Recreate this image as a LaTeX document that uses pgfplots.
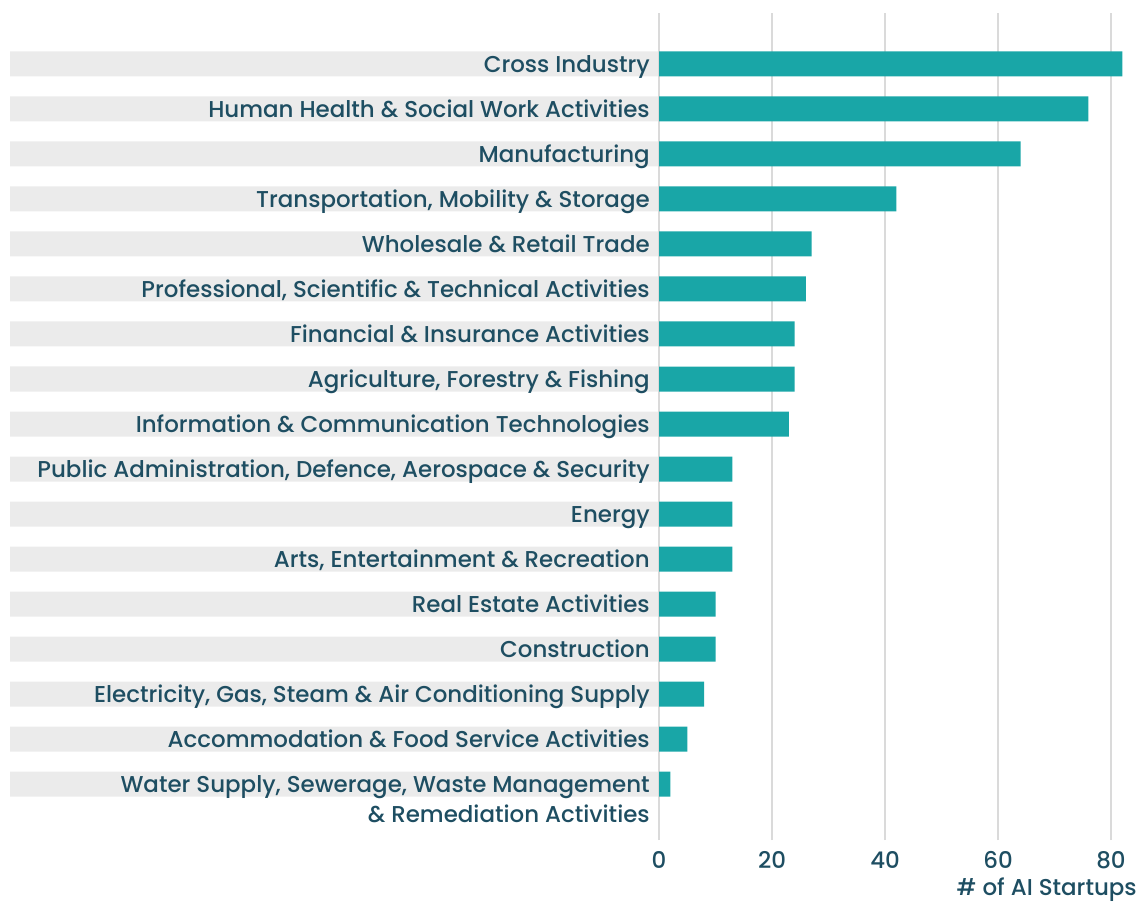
\documentclass[border=0pt]{standalone}
\usepackage{pgfplots}
\pgfplotsset{compat=1.18}
\usepackage{fontspec}
\setmainfont{Poppins}[UprightFont=* Medium]
\definecolor{barteal}{HTML}{19A6A7}
\definecolor{stripe}{HTML}{EBEBEB}
\definecolor{txt}{HTML}{1E4E62}
\definecolor{gridc}{HTML}{DADADA}
\pgfplotsset{common/.style={
  scale only axis,
  width=845.25pt, height=620.25pt,
  xmin=-114.87, xmax=84.6,
  ymin=-1.24, ymax=17.13,
  axis line style={draw=none},
  major tick length=0pt,
}}
\begin{document}
\begin{tikzpicture}
\begin{axis}[common, xtick=\empty, ytick=\empty]
\addplot[xbar, bar width=18.75pt, bar shift=0pt, fill=stripe, draw=none] coordinates {
(-114.87,0) (-114.87,1) (-114.87,2) (-114.87,3) (-114.87,4) (-114.87,5) (-114.87,6) (-114.87,7) (-114.87,8)
(-114.87,9) (-114.87,10) (-114.87,11) (-114.87,12) (-114.87,13) (-114.87,14) (-114.87,15) (-114.87,16)};
\end{axis}
\begin{axis}[
  name=ax,
  common,
  xtick={0,20,40,60,80},
  ytick={0,...,16},
  yticklabels={
    {\smash{\begin{tabular}[t]{@{}r@{}}Water Supply, Sewerage, Waste Management\\[2pt] \& Remediation Activities\end{tabular}}},
    Accommodation \& Food Service Activities,
    {Electricity, Gas, Steam \& Air Conditioning Supply},
    Construction,
    Real Estate Activities,
    {Arts, Entertainment \& Recreation},
    Energy,
    {Public Administration, Defence, Aerospace \& Security},
    Information \& Communication Technologies,
    {Agriculture, Forestry \& Fishing},
    Financial \& Insurance Activities,
    {Professional, Scientific \& Technical Activities},
    Wholesale \& Retail Trade,
    {Transportation, Mobility \& Storage},
    Manufacturing,
    Human Health \& Social Work Activities,
    Cross Industry},
  xmajorgrids,
  grid style={gridc, line width=1.1pt},
  /pgf/number format/assume math mode=true,
  tick label style={font=\fontsize{17.2}{20.5}\selectfont, text=txt},
  yticklabel style={anchor=mid east, inner sep=0pt, xshift=480pt, yshift=-3.8pt},
  xticklabel style={yshift=-5pt},
  xlabel={\# of AI Startups},
  xlabel style={at={(rel axis cs:1,0)}, anchor=north east, yshift=-28pt, inner sep=0pt, font=\fontsize{17.2}{20.5}\selectfont, text=txt},
]
\addplot[xbar, bar width=18.75pt, bar shift=0pt, fill=barteal, draw=none] coordinates {
(2,0) (5,1) (8,2) (10,3) (10,4) (13,5) (13,6) (13,7) (23,8) (24,9) (24,10) (26,11) (27,12) (42,13) (64,14) (76,15) (82,16)};
\end{axis}
\pgfresetboundingbox
\path[use as bounding box] ([xshift=-7.5pt,yshift=-47.25pt]ax.south west) rectangle ([xshift=3.75pt,yshift=9.75pt]ax.north east);
\end{tikzpicture}
\end{document}
